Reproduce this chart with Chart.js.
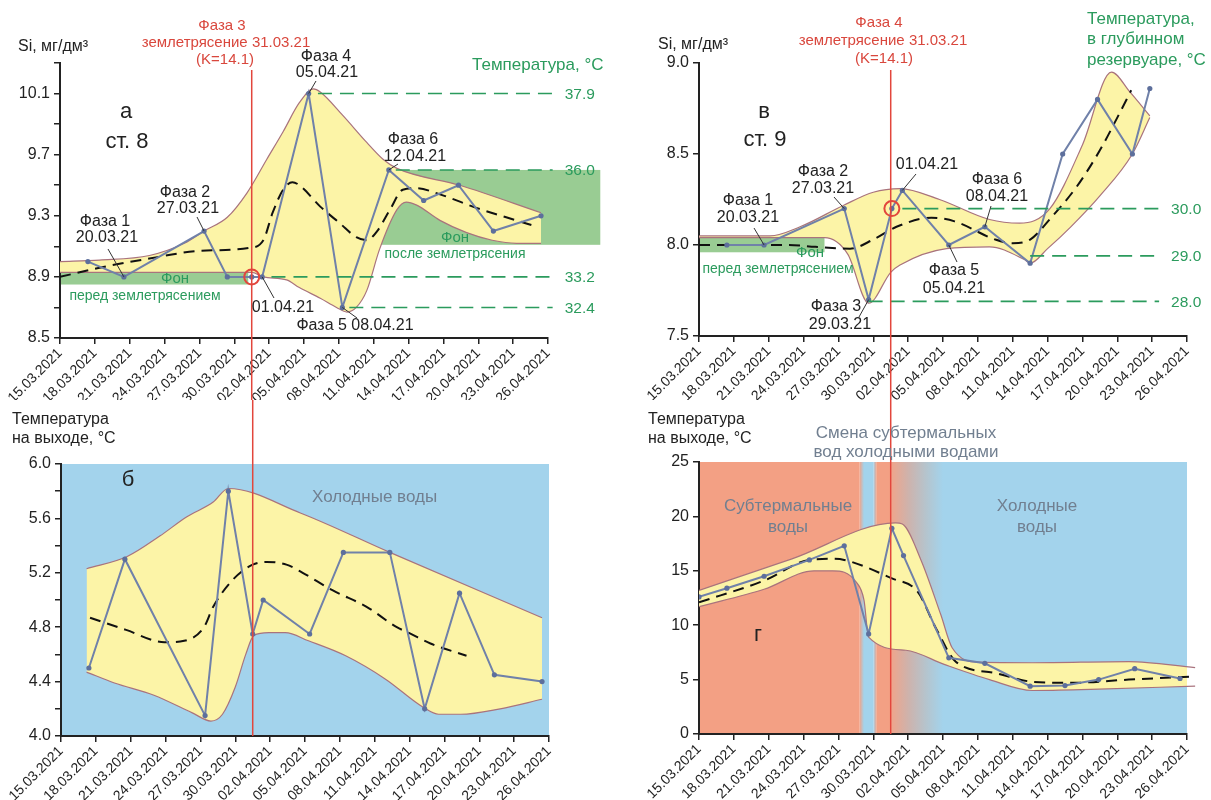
<!DOCTYPE html>
<html>
<head>
<meta charset="utf-8">
<script src="https://cdn.jsdelivr.net/npm/chart.js@4.4.1/dist/chart.umd.min.js"></script>
<style>
  html, body { margin: 0; padding: 0; background: #fff; }
  #wrap { position: relative; width: 1211px; height: 800px; overflow: hidden; }
  #wrap canvas { position: absolute; }
</style>
</head>
<body>
<div id="wrap">
  <canvas id="cA" width="605" height="400" style="left:0;top:0"></canvas>
  <canvas id="cB" width="605" height="400" style="left:0;top:400px"></canvas>
  <canvas id="cC" width="606" height="400" style="left:605px;top:0"></canvas>
  <canvas id="cD" width="606" height="400" style="left:605px;top:400px"></canvas>
</div>
<script>
// ---- x axis: days counted from 15.03.2021 ----
const tickDays  = [0, 3, 6, 9, 12, 15, 18, 21, 24, 27, 30, 33, 36, 39, 42];
const dateTicks = ['15.03.2021','18.03.2021','21.03.2021','24.03.2021','27.03.2021','30.03.2021','02.04.2021',
                   '05.04.2021','08.04.2021','11.04.2021','14.04.2021','17.04.2021','20.04.2021','23.04.2021','26.04.2021'];
const quakeDay = 16.5; // 31.03.21

// ---- station 8 ----
const daysSt8 = [2.4, 5.5, 12.4, 14.4, 16.5, 17.4, 21.4, 24.3, 28.3, 31.3, 34.3, 37.3, 41.4];
const siSt8   = [9.0, 8.9, 9.2, 8.9, 8.9, 8.9, 10.1, 8.7, 9.6, 9.4, 9.5, 9.2, 9.3];
const tempSt8 = [4.5, 5.3, 4.15, 5.8, 4.75, 5.0, 4.75, 5.35, 5.35, 4.2, 5.05, 4.45, 4.4];

// ---- station 9 ----
const daysSt9Si = [2.4, 5.6, 12.5, 14.6, 16.6, 17.5, 21.5, 24.6, 28.5, 31.3, 34.3, 37.3, 38.8];
const siSt9     = [8.0, 8.0, 8.2, 7.7, 8.2, 8.3, 8.0, 8.1, 7.9, 8.5, 8.8, 8.5, 8.86];
const daysSt9T  = [0, 2.4, 5.6, 9.5, 12.5, 14.6, 16.6, 17.6, 21.5, 24.6, 28.5, 31.5, 34.4, 37.5, 41.4];
const tempSt9   = [12.6, 13.4, 14.5, 16.0, 17.3, 9.2, 18.9, 16.4, 7.0, 6.5, 4.4, 4.45, 5.0, 6.0, 5.1];

// ---- envelopes [day, value] and smoothed trends ----
const envSiSt8Up = [[0,9.0],[3.4,9.01],[7.7,9.04],[10.7,9.12],[12.4,9.2],[14.4,9.29],[16.1,9.45],[17.8,9.67],[19.2,9.85],
  [20.6,10.04],[21.8,10.13],[22.4,10.11],[24.3,9.96],[26.4,9.78],[27.8,9.67],[29,9.61],[34.4,9.5],[41.4,9.32]];
const envSiSt8Lo = [[0,8.93],[16.5,8.93],[17.5,8.9],[19.5,8.88],[20.6,8.83],[22.4,8.76],[23.8,8.7],[24.7,8.67],[25.5,8.7],
  [26.4,8.81],[27.5,9.08],[29,9.34],[29.8,9.39],[30.7,9.37],[32.7,9.27],[35,9.19],[37.2,9.14],[39.3,9.12],[41.4,9.12]];
const trendSiSt8 = [[0,8.9],[3.4,8.96],[7.7,9.02],[12,9.07],[16.3,9.09],[17.5,9.14],[18.3,9.32],[19.2,9.47],[20,9.52],
  [20.6,9.5],[22.4,9.36],[24.1,9.25],[25.5,9.16],[26.4,9.14],[27.3,9.2],[28.4,9.34],[29.5,9.47],[30.7,9.48],[32.7,9.44],
  [35.9,9.35],[38.4,9.29],[41,9.23]];

const envTSt8Up = [[2.2,5.23],[5.7,5.32],[8.5,5.47],[10.8,5.61],[13.1,5.72],[14.4,5.82],[20.6,5.64],[28.3,5.35],[41.4,4.87]];
const envTSt8Lo = [[2.2,4.47],[4.6,4.39],[8,4.3],[11.3,4.17],[12.9,4.11],[13.9,4.16],[15,4.36],[15.9,4.6],[16.6,4.74],
  [17.9,4.76],[19.3,4.76],[21.3,4.7],[24.5,4.59],[27.9,4.42],[31.2,4.21],[32.5,4.16],[34.4,4.16],[37.8,4.2],[41.4,4.27]];
const trendTSt8 = [[2.5,4.87],[5.6,4.78],[8.9,4.69],[10.6,4.7],[12.3,4.8],[13.1,4.95],[14.8,5.15],[16.5,5.26],[17.7,5.28],
  [19.4,5.26],[20.8,5.2],[23.4,5.07],[26.3,4.95],[28.9,4.8],[29.9,4.76],[31.8,4.68],[34.9,4.59]];

const envSiSt9Up = [[0,8.05],[6.1,8.05],[8.7,8.1],[12.5,8.22],[15,8.29],[17.3,8.31],[20.7,8.25],[25,8.14],[27.6,8.12],
  [30.2,8.2],[33,8.55],[35.5,8.95],[37.1,8.84],[38.8,8.71]];
const envSiSt9Lo = [[0,8.04],[10.8,8.04],[12.8,7.95],[14.6,7.68],[16.5,7.85],[17.3,7.89],[21.3,7.98],[25,7.99],[28,7.92],
  [28.5,7.9],[30,7.98],[32,8.1],[34.5,8.27],[37.3,8.5],[38.8,8.7]];
const trendSiSt9 = [[0,8.0],[7.7,8.0],[10,7.99],[13,7.98],[15,8.03],[17,8.1],[20,8.15],[22,8.13],[25.5,8.03],[27,8.01],
  [28.5,8.03],[30.3,8.15],[32.5,8.32],[34.5,8.52],[36,8.7],[37.2,8.85]];

const envTSt9Up = [[0,13.2],[8,16.1],[16.9,19.4],[17.5,19.3],[19.1,16.0],[20.8,11.0],[21.8,7.9],[24.1,6.6],[28.7,6.55],[37,6.65],[42.7,6.1]];
const envTSt9Lo = [[0,11.7],[5.6,13.3],[9.9,15.0],[11.5,15.0],[13.5,14.0],[14.2,12.3],[14.6,8.9],[17.8,7.7],[21.1,6.4],
  [25,5.0],[28.7,4.0],[33.7,4.1],[42.7,4.4]];
const trendTSt9 = [[0,12.1],[5.6,14.1],[9.5,16.0],[11.5,16.1],[12.5,16.0],[16.6,14.3],[18.8,13.1],[20.4,9.7],[22.1,6.65],
  [25.5,5.6],[28.7,4.8],[32,4.7],[37,5.0],[42.7,5.3]];

// ---- y axis ticks ----
const siTicksSt8  = [8.5, 8.7, 8.9, 9.1, 9.3, 9.5, 9.7, 9.9, 10.1, 10.3];
const siLabelsSt8 = ['8.5','','8.9','','9.3','','9.7','','10.1',''];
const tTicksSt8   = [4.0, 4.2, 4.4, 4.6, 4.8, 5.0, 5.2, 5.4, 5.6, 5.8, 6.0];
const tLabelsSt8  = ['4.0','','4.4','','4.8','','5.2','','5.6','','6.0'];
const siTicksSt9  = [7.5, 8.0, 8.5, 9.0];
const siLabelsSt9 = ['7.5','8.0','8.5','9.0'];
const tTicksSt9   = [0, 5, 10, 15, 20, 25];
const tLabelsSt9  = ['0','5','10','15','20','25'];

// ---- styling ----
const FONT = "'Liberation Sans', Arial, Helvetica, sans-serif";
const COL = {
  ink: '#222', env: '#fcf4a7', envLine: '#a9737d', series: '#7081a9', seriesPt: '#5d6f9c',
  green: '#2b9b5d', band: '#99cc93', red: '#e2463c', redText: '#d9473d',
  blue: '#a3d3ec', salmon: '#f3a084', gray: '#717f90'
};
Chart.defaults.font.family = FONT;
Chart.defaults.color = COL.ink;

const xy = (days, vals) => days.map((d, i) => ({ x: d, y: vals[i] }));
const pairs = arr => arr.map(([x, y]) => ({ x, y }));

function seriesSet(days, vals) {
  return { data: xy(days, vals), borderColor: COL.series, borderWidth: 2, pointRadius: 2.6,
    pointBackgroundColor: COL.seriesPt, pointBorderWidth: 0, tension: 0, fill: false, order: 1 };
}
function trendSet(p, clip) {
  return { data: pairs(p), borderColor: '#111', borderWidth: 2, borderDash: [11, 7], pointRadius: 0,
    cubicInterpolationMode: 'monotone', fill: false, order: 2, clip: clip || 0 };
}
function envSets(up, lo, clip) {
  const base = { borderColor: COL.envLine, borderWidth: 1.2, pointRadius: 0, cubicInterpolationMode: 'monotone',
    order: 3, clip: clip || 0 };
  return [
    Object.assign({ data: pairs(up), fill: '+1', backgroundColor: COL.env }, base),
    Object.assign({ data: pairs(lo), fill: false }, base)
  ];
}
function markSet(day, val) {
  return { data: [{ x: day, y: val }], showLine: false, pointRadius: 7.5, pointBorderWidth: 2,
    pointBorderColor: COL.red, pointBackgroundColor: 'rgba(0,0,0,0)', order: 0 };
}

function axisCommon() {
  return {
    grid: { drawOnChartArea: false, drawTicks: true, tickLength: 6, color: COL.ink, lineWidth: 1.5 },
    border: { display: true, color: COL.ink, width: 2 }
  };
}

function makeChart(id, box, yTicks, yLabels, datasets, spec) {
  const canvas = document.getElementById(id);
  return new Chart(canvas, {
    type: 'line',
    data: { datasets },
    options: {
      responsive: false, animation: false, events: [],
      layout: { padding: { left: 0, top: box.top, right: box.w - box.right, bottom: 0 } },
      plugins: { legend: { display: false }, tooltip: { enabled: false }, filler: { drawTime: 'beforeDatasetsDraw' } },
      scales: {
        x: Object.assign(axisCommon(), {
          type: 'linear', min: tickDays[0], max: tickDays[tickDays.length - 1],
          afterFit: s => { s.height = box.h - box.bottom; },
          afterBuildTicks: s => { s.ticks = tickDays.map(v => ({ value: v })); },
          ticks: { autoSkip: false, maxRotation: 45, minRotation: 45, padding: 1,
            font: { size: 14 }, color: COL.ink, callback: (v, i) => dateTicks[i] }
        }),
        y: Object.assign(axisCommon(), {
          type: 'linear', min: yTicks[0], max: yTicks[yTicks.length - 1],
          afterFit: s => { s.width = box.left; },
          afterBuildTicks: s => { s.ticks = yTicks.map(v => ({ value: v })); },
          ticks: { padding: 4, font: { size: 16 }, color: COL.ink, callback: (v, i) => yLabels[i] }
        })
      }
    },
    plugins: [decor(spec)]
  });
}

// background bands, reference levels, earthquake line, leaders and captions
function decor(spec) {
  return {
    id: 'decor',
    beforeDraw(chart) {
      const { ctx, chartArea: a, scales: { x, y } } = chart;
      ctx.save();
      (spec.bands || []).forEach(b => {
        const x0 = x.getPixelForValue(b.from), x1 = x.getPixelForValue(b.to);
        const y0 = b.top != null ? y.getPixelForValue(b.top) : a.top;
        const y1 = b.bottom != null ? y.getPixelForValue(b.bottom) : a.bottom;
        let fill = b.colors[0];
        if (b.colors.length > 1) {
          const g = ctx.createLinearGradient(x0, 0, x1, 0);
          b.colors.forEach((c, i) => g.addColorStop(i / (b.colors.length - 1), c));
          fill = g;
        }
        ctx.fillStyle = fill;
        ctx.fillRect(x0, y0, x1 - x0, y1 - y0);
      });
      ctx.restore();
    },
    afterDraw(chart) {
      const { ctx, chartArea: a, scales: { x, y } } = chart;
      const ox = spec.ox, oy = spec.oy;
      ctx.save();
      // reference levels with temperature labels
      (spec.levels || []).forEach(l => {
        const py = y.getPixelForValue(l.value);
        ctx.strokeStyle = COL.green; ctx.lineWidth = 1.6; ctx.setLineDash([14, 8]);
        ctx.beginPath(); ctx.moveTo(x.getPixelForValue(l.from), py); ctx.lineTo(x.getPixelForValue(l.to), py); ctx.stroke();
        ctx.setLineDash([]);
        ctx.fillStyle = COL.green; ctx.font = `15.5px ${FONT}`; ctx.textAlign = 'left'; ctx.textBaseline = 'middle';
        ctx.fillText(l.text, x.getPixelForValue(l.to) + 12, py + 1);
      });
      // earthquake line
      if (spec.quake) {
        const px = x.getPixelForValue(quakeDay);
        const y0 = spec.quake.y0 === 'area' ? a.top : spec.quake.y0;
        const y1 = spec.quake.y1 === 'area' ? a.bottom : spec.quake.y1;
        ctx.strokeStyle = COL.red; ctx.lineWidth = 1.5;
        ctx.beginPath(); ctx.moveTo(px, y0); ctx.lineTo(px, y1); ctx.stroke();
      }
      // leaders from points to captions
      ctx.strokeStyle = '#333'; ctx.lineWidth = 1;
      (spec.leaders || []).forEach(l => {
        ctx.beginPath();
        ctx.moveTo(x.getPixelForValue(l.p[0]), y.getPixelForValue(l.p[1]));
        ctx.lineTo(l.to[0] - ox, l.to[1] - oy);
        ctx.stroke();
      });
      // captions
      (spec.notes || []).forEach(t => {
        ctx.font = `${t.size || 16}px ${FONT}`;
        ctx.fillStyle = t.color || COL.ink;
        ctx.textAlign = t.align || 'center';
        ctx.textBaseline = 'middle';
        ctx.fillText(t.t, t.x - ox, t.y - oy);
      });
      ctx.restore();
    }
  };
}

// ---------- а: Si, station 8 ----------
makeChart('cA', { w: 605, h: 400, left: 60, right: 548, top: 63, bottom: 338 }, siTicksSt8, siLabelsSt8, [
  markSet(quakeDay, 8.9),
  seriesSet(daysSt8, siSt8),
  trendSet(trendSiSt8),
  ...envSets(envSiSt8Up, envSiSt8Lo)
], {
  ox: 0, oy: 0,
  bands: [
    { from: 0, to: 16.2, top: 8.93, bottom: 8.85, colors: [COL.band] },
    { from: 27.6, to: 46.5, top: 9.6, bottom: 9.11, colors: [COL.band] }
  ],
  levels: [
    { value: 10.1, from: 22.2, to: 42.4, text: '37.9' },
    { value: 9.6, from: 28.9, to: 42.4, text: '36.0' },
    { value: 8.9, from: 18.2, to: 42.4, text: '33.2' },
    { value: 8.7, from: 24.9, to: 42.4, text: '32.4' }
  ],
  quake: { y0: 70, y1: 400 },
  leaders: [
    { p: [5.5, 8.9], to: [108, 249] }, { p: [12.4, 9.2], to: [197, 217] }, { p: [17.4, 8.9], to: [274, 298] },
    { p: [21.4, 10.1], to: [316, 81] }, { p: [24.3, 8.7], to: [357, 318] }, { p: [28.3, 9.6], to: [398, 164] }
  ],
  notes: [
    { t: 'Si, мг/дм³', x: 18, y: 47, align: 'left' },
    { t: 'Фаза 3', x: 222, y: 26, color: COL.redText, size: 15 },
    { t: 'землетрясение 31.03.21', x: 226, y: 43, color: COL.redText, size: 15 },
    { t: '(K=14.1)', x: 225, y: 60, color: COL.redText, size: 15 },
    { t: 'а', x: 126, y: 112, size: 22 },
    { t: 'ст. 8', x: 127, y: 142, size: 22 },
    { t: 'Фаза 4', x: 326, y: 57 }, { t: '05.04.21', x: 327, y: 73 },
    { t: 'Температура, °C', x: 472, y: 65, align: 'left', color: COL.green, size: 17 },
    { t: 'Фаза 6', x: 413, y: 140 }, { t: '12.04.21', x: 415, y: 157 },
    { t: 'Фаза 2', x: 185, y: 193 }, { t: '27.03.21', x: 188, y: 209 },
    { t: 'Фаза 1', x: 105, y: 222 }, { t: '20.03.21', x: 107, y: 238 },
    { t: 'Фон', x: 175, y: 279, color: COL.green, size: 15 },
    { t: 'перед землетрясением', x: 145, y: 296, color: COL.green, size: 14 },
    { t: '01.04.21', x: 283, y: 308 },
    { t: 'Фаза 5 08.04.21', x: 355, y: 326 },
    { t: 'Фон', x: 455, y: 238, color: COL.green, size: 15 },
    { t: 'после землетрясения', x: 455, y: 254, color: COL.green, size: 14 }
  ]
});

// ---------- б: outlet temperature, station 8 ----------
makeChart('cB', { w: 605, h: 400, left: 61, right: 549, top: 64, bottom: 336 }, tTicksSt8, tLabelsSt8, [
  seriesSet(daysSt8, tempSt8),
  trendSet(trendTSt8),
  ...envSets(envTSt8Up, envTSt8Lo)
], {
  ox: 0, oy: 400,
  bands: [{ from: 0, to: 42, colors: [COL.blue] }],
  quake: { y0: 0, y1: 'area' },
  notes: [
    { t: 'Температура', x: 12, y: 420, align: 'left' },
    { t: 'на выходе, °C', x: 12, y: 439, align: 'left' },
    { t: 'б', x: 128, y: 480, size: 22 },
    { t: 'Холодные воды', x: 312, y: 497, align: 'left', color: COL.gray, size: 17 }
  ]
});

// ---------- в: Si, station 9 ----------
makeChart('cC', { w: 606, h: 400, left: 94, right: 582, top: 63, bottom: 336 }, siTicksSt9, siLabelsSt9, [
  markSet(16.6, 8.2),
  seriesSet(daysSt9Si, siSt9),
  trendSet(trendSiSt9),
  ...envSets(envSiSt9Up, envSiSt9Lo)
], {
  ox: 605, oy: 0,
  bands: [{ from: 0, to: 10.8, top: 8.04, bottom: 7.96, colors: [COL.band] }],
  levels: [
    { value: 8.2, from: 17.5, to: 39.6, text: '30.0' },
    { value: 7.94, from: 28.5, to: 39.6, text: '29.0' },
    { value: 7.69, from: 14.6, to: 39.6, text: '28.0' }
  ],
  quake: { y0: 70, y1: 400 },
  leaders: [
    { p: [5.6, 8.0], to: [754, 228] }, { p: [12.5, 8.2], to: [834, 197] }, { p: [17.5, 8.3], to: [916, 174] },
    { p: [24.6, 8.1], to: [991, 206] }, { p: [21.5, 8.0], to: [957, 262] }, { p: [14.6, 7.7], to: [859, 317] }
  ],
  notes: [
    { t: 'Si, мг/дм³', x: 658, y: 45, align: 'left' },
    { t: 'Фаза 4', x: 879, y: 23, color: COL.redText, size: 15 },
    { t: 'землетрясение 31.03.21', x: 883, y: 41, color: COL.redText, size: 15 },
    { t: '(K=14.1)', x: 884, y: 59, color: COL.redText, size: 15 },
    { t: 'Температура,', x: 1087, y: 19, align: 'left', color: COL.green, size: 17 },
    { t: 'в глубинном', x: 1087, y: 39, align: 'left', color: COL.green, size: 17 },
    { t: 'резервуаре, °C', x: 1087, y: 60, align: 'left', color: COL.green, size: 17 },
    { t: 'в', x: 764, y: 112, size: 22 }, { t: 'ст. 9', x: 765, y: 140, size: 22 },
    { t: 'Фаза 2', x: 823, y: 172 }, { t: '27.03.21', x: 823, y: 189 },
    { t: 'Фаза 1', x: 748, y: 201 }, { t: '20.03.21', x: 748, y: 218 },
    { t: '01.04.21', x: 927, y: 165 },
    { t: 'Фаза 6', x: 997, y: 180 }, { t: '08.04.21', x: 997, y: 197 },
    { t: 'Фаза 5', x: 954, y: 271 }, { t: '05.04.21', x: 954, y: 289 },
    { t: 'Фаза 3', x: 836, y: 307 }, { t: '29.03.21', x: 840, y: 325 },
    { t: 'Фон', x: 810, y: 253, color: COL.green, size: 15 },
    { t: 'перед землетрясением', x: 778, y: 269, color: COL.green, size: 14 }
  ]
});

// ---------- г: outlet temperature, station 9 ----------
makeChart('cD', { w: 606, h: 400, left: 94, right: 582, top: 62, bottom: 334 }, tTicksSt9, tLabelsSt9, [
  seriesSet(daysSt9T, tempSt9),
  trendSet(trendTSt9, { left: 0, top: 0, right: 12, bottom: 0 }),
  ...envSets(envTSt9Up, envTSt9Lo, { left: 0, top: 0, right: 12, bottom: 0 })
], {
  ox: 605, oy: 400,
  bands: [
    { from: 0, to: 13.8, colors: [COL.salmon] },
    { from: 13.8, to: 14.2, colors: [COL.salmon, COL.blue] },
    { from: 14.2, to: 15.0, colors: [COL.blue] },
    { from: 15.0, to: 15.3, colors: [COL.blue, COL.salmon] },
    { from: 15.3, to: 16.6, colors: [COL.salmon] },
    { from: 16.6, to: 21.0, colors: ['#eea58c', '#cdb3ad', '#b5c4cd', COL.blue] },
    { from: 21.0, to: 42, colors: [COL.blue] }
  ],
  quake: { y0: 0, y1: 'area' },
  notes: [
    { t: 'Температура', x: 648, y: 420, align: 'left' },
    { t: 'на выходе, °C', x: 648, y: 439, align: 'left' },
    { t: 'Смена субтермальных', x: 906, y: 433, color: COL.gray, size: 17 },
    { t: 'вод холодными водами', x: 906, y: 452, color: COL.gray, size: 17 },
    { t: 'Субтермальные', x: 788, y: 506, color: COL.gray, size: 17 },
    { t: 'воды', x: 788, y: 527, color: COL.gray, size: 17 },
    { t: 'Холодные', x: 1037, y: 506, color: COL.gray, size: 17 },
    { t: 'воды', x: 1037, y: 527, color: COL.gray, size: 17 },
    { t: 'г', x: 758, y: 635, size: 22 }
  ]
});
</script>
</body>
</html>
